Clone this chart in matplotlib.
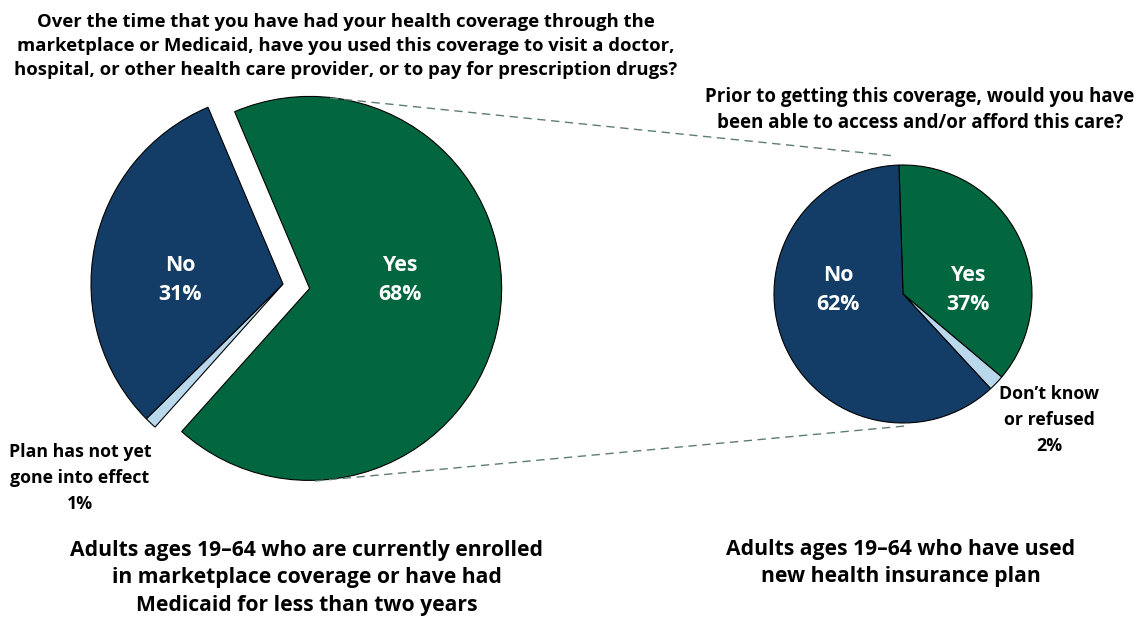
import matplotlib
matplotlib.use('Agg')
import matplotlib.pyplot as plt

W, H = 1138, 619

# left pie: used coverage
used_labels = ['Yes', 'Plan has not yet\ngone into effect', 'No']
used_values = [68, 1, 31]

# right pie: could have accessed care before
prior_labels = ['Yes', 'Don\u2019t know\nor refused', 'No']
prior_values = [37, 2, 62]

green = '#02673F'
navy = '#133D67'
light = '#BAD8EC'
colors = [green, light, navy]

q_left = ('Over the time that you have had your health coverage through the\n'
          'marketplace or Medicaid, have you used this coverage to visit a doctor,\n'
          'hospital, or other health care provider, or to pay for prescription drugs?')
q_right = ('Prior to getting this coverage, would you have\n'
           'been able to access and/or afford this care?')
cap_left = ('Adults ages 19\u201364 who are currently enrolled\n'
            'in marketplace coverage or have had\n'
            'Medicaid for less than two years')
cap_right = 'Adults ages 19\u201364 who have used\nnew health insurance plan'

plt.rcParams['font.family'] = ['Open Sans', 'DejaVu Sans']


def py(y):
    # pixel row -> data y
    return H - y


fig = plt.figure(figsize=(W / 100, H / 100), dpi=100)
ax = fig.add_axes([0, 0, 1, 1])
ax.set_xlim(0, W)
ax.set_ylim(0, H)
ax.set_aspect('equal')
ax.axis('off')

wp = dict(edgecolor='black', linewidth=0.8)
ax.pie(used_values, colors=colors, startangle=113, counterclock=False,
       center=(283, py(284)), radius=192, explode=[27, 0, 0],
       wedgeprops=wp, normalize=True)
ax.pie(prior_values, colors=colors, startangle=91.8, counterclock=False,
       center=(903, py(294)), radius=129,
       wedgeprops=wp, normalize=True)
ax.set_xlim(0, W)
ax.set_ylim(0, H)

# connector lines between the pies
dash = dict(color='#5E7D72', lw=1.0, ls=(0, (6, 4)))
ax.plot([330, 895], [py(98), py(156)], **dash)
ax.plot([315, 905], [py(481), py(426)], **dash)

inner = dict(color='white', fontsize=15.3, fontweight='bold', ha='center',
             va='center', linespacing=1.45)
ax.text(180, py(280), f'{used_labels[2]}\n{used_values[2]}%', **inner)
ax.text(400, py(280), f'{used_labels[0]}\n{used_values[0]}%', **inner)
ax.text(838, py(290), f'{prior_labels[2]}\n{prior_values[2]}%', **inner)
ax.text(968, py(290), f'{prior_labels[0]}\n{prior_values[0]}%', **inner)

outer = dict(color='black', fontsize=12.8, fontweight='bold', ha='center',
             va='center', linespacing=1.6)
ax.text(80, py(478), f'{used_labels[1]}\n{used_values[1]}%', **outer)
ax.text(1049, py(420), f'{prior_labels[1]}\n{prior_values[1]}%', **outer)

ax.text(346, py(46), q_left, color='black', fontsize=13.3, fontweight='bold',
        ha='center', va='center', linespacing=1.42)
ax.text(920, py(110), q_right, color='black', fontsize=13.5, fontweight='bold',
        ha='center', va='center', linespacing=1.42)

ax.text(307, py(578), cap_left, color='black', fontsize=15.2, fontweight='bold',
        ha='center', va='center', linespacing=1.43)
ax.text(901, py(563), cap_right, color='black', fontsize=15.2, fontweight='bold',
        ha='center', va='center', linespacing=1.43)

fig.savefig('out.png', dpi=100)
